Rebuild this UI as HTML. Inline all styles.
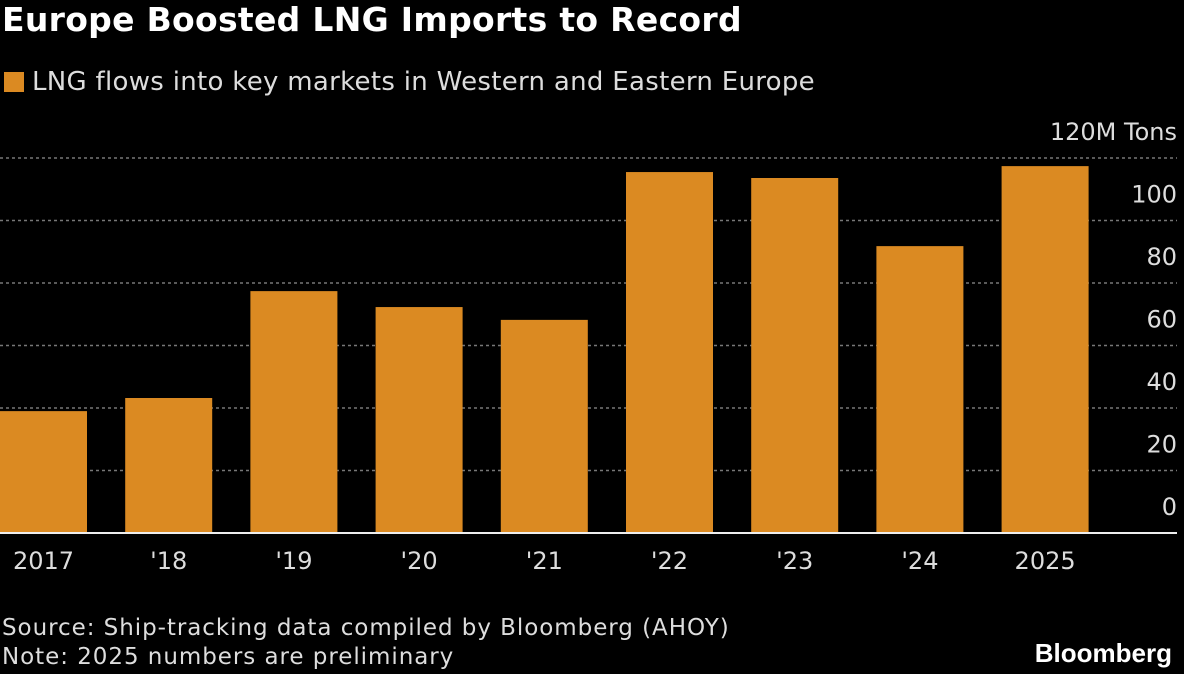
<!DOCTYPE html>
<html><head><meta charset="utf-8"><style>
body{margin:0;background:#000;width:1184px;height:674px;overflow:hidden;font-family:"DejaVu Sans","Liberation Sans",sans-serif;color:#ddd}
#title{position:absolute;left:2px;top:0px;font:bold 33px "DejaVu Sans","Liberation Sans",sans-serif;color:#fff;letter-spacing:0.3px}
#legend{position:absolute;left:4px;top:67px;font-size:26px;color:#ddd;letter-spacing:0.3px}
#legend span.sw{display:inline-block;width:20px;height:20px;background:#db8a22;margin-right:8px;vertical-align:-2px}
.foot{position:absolute;left:2px;font-size:23px;color:#ddd;letter-spacing:0.95px}
#brand{position:absolute;right:12px;top:638px;font:bold 26px "Liberation Sans",sans-serif;color:#fff}
</style></head><body>
<div id="title">Europe Boosted LNG Imports to Record</div>
<div id="legend"><span class="sw"></span>LNG flows into key markets in Western and Eastern Europe</div>
<svg id="chart" width="1184" height="674" style="position:absolute;left:0;top:0"></svg>
<div class="foot" style="top:615px">Source: Ship-tracking data compiled by Bloomberg (AHOY)</div>
<div class="foot" style="top:644px">Note: 2025 numbers are preliminary</div>
<div id="brand">Bloomberg</div>
<script>
const categories=["2017","'18","'19","'20","'21","'22","'23","'24","2025"];
const values=[39,43.2,77.4,72.3,68.2,115.5,113.6,91.8,117.4];
const ticks=[0,20,40,60,80,100,120];
const tickLabels=["0","20","40","60","80","100","120M Tons"];
const svg=document.getElementById('chart');
const NS='http://www.w3.org/2000/svg';
const y0=533,pxPerUnit=3.125;
const y=v=>y0-v*pxPerUnit;
const x=i=>i*125.2;
const bw=87;
function mk(t,a){const e=document.createElementNS(NS,t);for(const k in a)e.setAttribute(k,a[k]);svg.appendChild(e);return e;}
ticks.forEach((t,i)=>{
 if(t>0){const l=mk('line',{x1:0,x2:1177,y1:y(t),y2:y(t),stroke:'#777','stroke-width':1.5,'stroke-dasharray':'3,3'});
 
 }
 const tx=mk('text',{x:1177,y:y(t)-18,'text-anchor':'end',fill:'#ddd','font-size':24,'font-family':'DejaVu Sans, sans-serif'});
 tx.textContent=tickLabels[i];
 
 
});
values.forEach((v,i)=>{
 const r=mk('rect',{x:x(i),y:y(v),width:bw,height:v*pxPerUnit,fill:'#db8a22'});
 
 
 const tx=mk('text',{x:x(i)+bw/2,y:569,'text-anchor':'middle',fill:'#ddd','font-size':24,'font-family':'DejaVu Sans, sans-serif'});
 tx.textContent=categories[i];
 
 
});
const ax=mk('line',{x1:0,x2:1177,y1:y0,y2:y0,stroke:'#eee','stroke-width':2});


</script>
</body></html>
